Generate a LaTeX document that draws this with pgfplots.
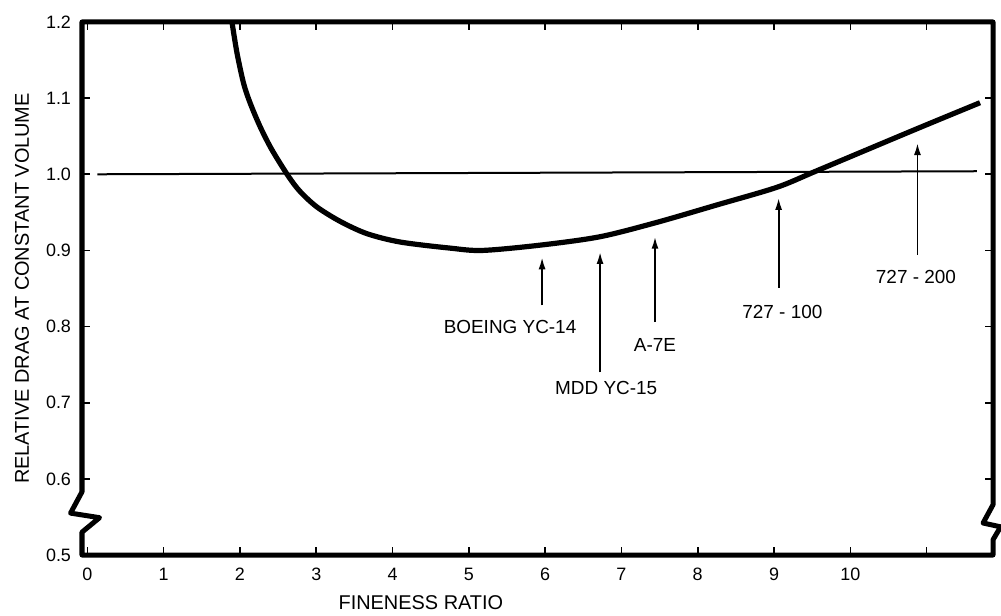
\documentclass[border=0pt]{standalone}
\usepackage{fontspec}
\setmainfont{Liberation Sans}
\usepackage{pgfplots}
\pgfplotsset{compat=1.18}
\usetikzlibrary{arrows.meta}
\begin{document}
\begin{tikzpicture}
\begin{axis}[
  scale only axis, width=455.5bp, height=266.5bp,
  xmin=-0.07, xmax=11.87, ymin=0.5, ymax=1.2,
  axis line style={draw=none},
  clip=false,
  xtick={0,1,2,3,4,5,6,7,8,9,10,11},
  xticklabels={0,1,2,3,4,5,6,7,8,9,10,{}},
  ytick={0.5,0.6,0.7,0.8,0.9,1.0,1.1,1.2},
  yticklabels={0.5,0.6,0.7,0.8,0.9,1.0,1.1,1.2},
  tick style={black, line width=0.8bp},
  major tick length=4bp,
  tick label style={font=\fontsize{9}{11}\selectfont},
  xticklabel style={yshift=-3bp},
  yticklabel style={xshift=-2bp},
  xlabel={FINENESS RATIO},
  ylabel={RELATIVE DRAG AT CONSTANT VOLUME},
  label style={font=\fontsize{9}{11}\selectfont},
  every axis x label/.style={at={(axis description cs:0.372,-0.09)}, anchor=center},
  every axis y label/.style={at={(axis description cs:-0.0659,0.5)}, anchor=center, rotate=90},
]
% frame with axis breaks
\draw[line width=2.5bp, line join=round, line cap=round]
  (axis cs:-0.07,0.583) -- (axis cs:-0.07,1.2) -- (axis cs:11.87,1.2) -- (axis cs:11.87,0.566)
  -- (axis cs:11.74,0.542) -- (axis cs:11.97,0.537) -- (axis cs:11.87,0.520)
  -- (axis cs:11.87,0.5) -- (axis cs:-0.07,0.5) -- (axis cs:-0.07,0.530)
  -- (axis cs:0.16,0.549) -- (axis cs:-0.22,0.555) -- cycle;
% reference line
\addplot[line width=1bp] coordinates {(0.13,1.0) (11.66,1.004)};
% drag curve
\addplot[line width=2.6bp, smooth, tension=0.5] coordinates {
  (1.897,1.199) (1.962,1.159) (2.049,1.119) (2.136,1.093) (2.267,1.062)
  (2.420,1.032) (2.638,0.997) (2.792,0.977) (3.010,0.957) (3.316,0.938)
  (3.665,0.922) (4.102,0.911) (4.757,0.903) (5.18,0.900) (5.94,0.907)
  (6.72,0.918) (7.47,0.937) (8.26,0.960) (9.04,0.983) (9.57,1.005)
  (10.83,1.058) (11.70,1.094)
};
% annotations
\tikzset{arr/.style={line width=0.9bp, -{Latex[length=6bp,width=3.5bp]}},
         lab/.style={font=\fontsize{9.5}{11}\selectfont, anchor=center}}
\draw[arr] (axis cs:5.96,0.828) -- (axis cs:5.96,0.891);
\draw[arr] (axis cs:6.72,0.740) -- (axis cs:6.72,0.898);
\draw[arr] (axis cs:7.44,0.806) -- (axis cs:7.44,0.918);
\draw[arr] (axis cs:9.06,0.851) -- (axis cs:9.06,0.969);
\draw[arr] (axis cs:10.88,0.894) -- (axis cs:10.88,1.041);
\node[lab] at (axis cs:5.54,0.799) {BOEING YC-14};
\node[lab] at (axis cs:6.80,0.719) {MDD YC-15};
\node[lab] at (axis cs:7.44,0.776) {A-7E};
\node[lab] at (axis cs:9.11,0.819) {727 - 100};
\node[lab] at (axis cs:10.86,0.865) {727 - 200};
\end{axis}
\pgfresetboundingbox
\path ([shift={(-41bp,-30.5bp)}]current axis.south west) rectangle ([shift={(4bp,11bp)}]current axis.north east);
\end{tikzpicture}
\end{document}
